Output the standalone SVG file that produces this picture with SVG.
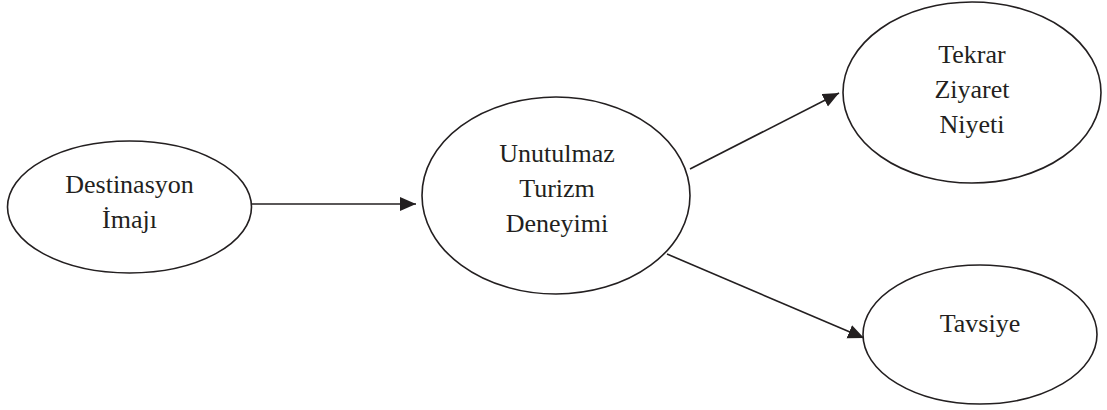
<svg xmlns="http://www.w3.org/2000/svg" width="1107" height="410" viewBox="0 0 1107 410">
  <style>
    .node { fill: #ffffff; stroke: #231f20; stroke-width: 1.6; }
    .label { font-family: "Liberation Serif", "Times New Roman", serif; font-size: 26px; fill: #231f20; text-anchor: middle; }
    .edge { stroke: #231f20; stroke-width: 1.6; fill: none; marker-end: url(#arrow); }
  </style>
  <defs>
    <marker id="arrow" markerUnits="userSpaceOnUse" markerWidth="17" markerHeight="15" refX="16" refY="7" orient="auto">
      <path d="M0,0 L16,7 L0,14 Z" fill="#231f20"/>
    </marker>
  </defs>
  <rect width="1107" height="410" fill="#ffffff"/>

  <g id="connectors">
    <line class="edge" x1="250" y1="204" x2="416" y2="204"/>
    <line class="edge" x1="690" y1="169" x2="839" y2="93"/>
    <line class="edge" x1="667" y1="254" x2="864" y2="338"/>
  </g>

  <g id="destinasyon-imaji">
    <ellipse class="node" cx="129.5" cy="207" rx="122" ry="66"/>
    <text class="label" x="129.5" y="193">Destinasyon</text>
    <text class="label" x="129.5" y="228">İmajı</text>
  </g>

  <g id="unutulmaz-turizm-deneyimi">
    <ellipse class="node" cx="556" cy="195.5" rx="134" ry="98.5"/>
    <text class="label" x="557" y="162">Unutulmaz</text>
    <text class="label" x="557" y="197">Turizm</text>
    <text class="label" x="557" y="232">Deneyimi</text>
  </g>

  <g id="tekrar-ziyaret-niyeti">
    <ellipse class="node" cx="972" cy="92.5" rx="129" ry="90.5"/>
    <text class="label" x="972" y="63">Tekrar</text>
    <text class="label" x="972" y="98">Ziyaret</text>
    <text class="label" x="972" y="133">Niyeti</text>
  </g>

  <g id="tavsiye">
    <ellipse class="node" cx="980" cy="334.5" rx="117" ry="69.5"/>
    <text class="label" x="980" y="332">Tavsiye</text>
  </g>
</svg>
